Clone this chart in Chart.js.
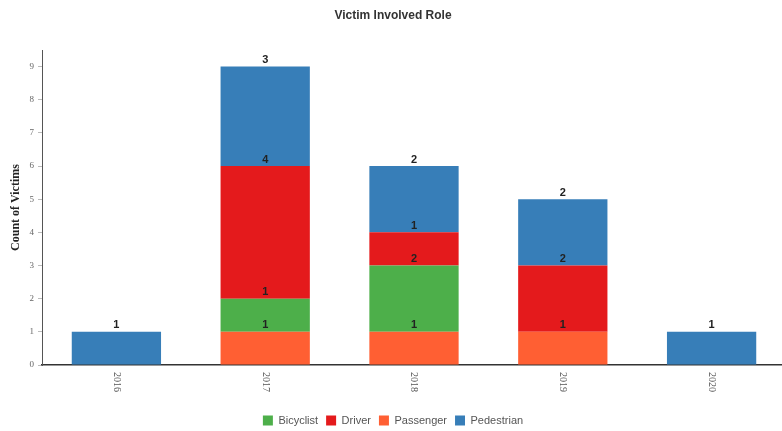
<!DOCTYPE html>
<html>
<head>
<meta charset="utf-8">
<script src="https://cdn.jsdelivr.net/npm/chart.js@4.4.0/dist/chart.umd.min.js"></script>
<style>
  html, body { margin: 0; padding: 0; background: #fff; overflow: hidden; }
  #wrap { width: 786px; height: 431px; position: relative; }
</style>
</head>
<body>
<div id="wrap"><canvas id="c"></canvas></div>
<script>
const categories = ['2016', '2017', '2018', '2019', '2020'];
const bicyclist  = [0, 1, 2, 0, 0];
const driver     = [0, 4, 1, 2, 0];
const passenger  = [0, 1, 1, 1, 0];
const pedestrian = [1, 3, 2, 2, 1];
const yTicks = [0, 1, 2, 3, 4, 5, 6, 7, 8, 9];

const segmentLabels = {
  id: 'segmentLabels',
  afterDatasetsDraw(chart) {
    const ctx = chart.ctx;
    ctx.save();
    ctx.font = 'bold 11px "Liberation Sans", Arial, sans-serif';
    ctx.fillStyle = '#222';
    ctx.textAlign = 'center';
    ctx.textBaseline = 'bottom';
    chart.data.datasets.forEach((ds, di) => {
      const meta = chart.getDatasetMeta(di);
      if (meta.hidden) return;
      meta.data.forEach((el, i) => {
        const v = ds.data[i];
        if (!v) return;
        ctx.fillText(String(v), el.x, el.y - 1);
      });
    });
    ctx.restore();
  }
};

const xLabels = {
  id: 'xLabels',
  afterDraw(chart) {
    const sc = chart.scales.x;
    const ctx = chart.ctx;
    ctx.save();
    ctx.font = '10px "Liberation Serif", "DejaVu Serif", serif';
    ctx.fillStyle = '#555';
    ctx.textAlign = 'left';
    ctx.textBaseline = 'middle';
    categories.forEach((lab, i) => {
      const x = sc.getPixelForTick(i);
      ctx.save();
      ctx.translate(x, sc.top + 7);
      ctx.rotate(Math.PI / 2);
      ctx.fillText(lab, 0, 0);
      ctx.restore();
    });
    ctx.restore();
  }
};

new Chart(document.getElementById('c'), {
  type: 'bar',
  data: {
    labels: categories,
    datasets: [
      { label: 'Bicyclist',  data: bicyclist,  backgroundColor: '#4daf4a', order: 1 },
      { label: 'Driver',     data: driver,     backgroundColor: '#e41a1c', order: 2 },
      { label: 'Passenger',  data: passenger,  backgroundColor: '#ff5f33', order: 0 },
      { label: 'Pedestrian', data: pedestrian, backgroundColor: '#377eb8', order: 3 }
    ]
  },
  options: {
    responsive: true,
    maintainAspectRatio: false,
    animation: false,
    layout: { padding: { left: 0, right: 0, top: 0, bottom: -5 } },
    datasets: { bar: { categoryPercentage: 1.0, barPercentage: 0.6 } },
    plugins: {
      title: {
        display: true,
        text: 'Victim Involved Role',
        color: '#333',
        font: { family: '"Liberation Sans", Arial, sans-serif', size: 12, weight: 'bold' },
        padding: { top: 8, bottom: 27.6 }
      },
      legend: {
        position: 'bottom',
        labels: {
          boxWidth: 10,
          boxHeight: 10,
          padding: 8,
          color: '#555',
          font: { family: '"Liberation Sans", Arial, sans-serif', size: 11 },
          sort: (a, b) => a.datasetIndex - b.datasetIndex
        }
      },
      tooltip: { enabled: false }
    },
    scales: {
      x: {
        stacked: true,
        grid: { display: false },
        border: { display: true, color: '#333', width: 1.5 },
        ticks: { display: false },
        afterFit(scale) { scale.height = 42; }
      },
      y: {
        stacked: true,
        min: 0,
        max: 9.5,
        grid: { display: true, drawOnChartArea: false, drawTicks: true, tickLength: 4, color: '#bbb' },
        border: { display: true, color: '#555', width: 1 },
        afterBuildTicks(scale) { scale.ticks = yTicks.map(v => ({ value: v })); },
        ticks: {
          stepSize: 1,
          padding: 4,
          color: '#666',
          font: { family: '"Liberation Serif", "DejaVu Serif", serif', size: 9 }
        },
        title: {
          display: true,
          text: 'Count of Victims',
          color: '#222',
          padding: { top: 9, bottom: 6 },
          font: { family: '"Liberation Serif", "DejaVu Serif", serif', size: 12, weight: 'bold' }
        },
        afterFit(scale) { scale.width = 42; }
      }
    }
  },
  plugins: [segmentLabels, xLabels]
});
</script>
</body>
</html>
